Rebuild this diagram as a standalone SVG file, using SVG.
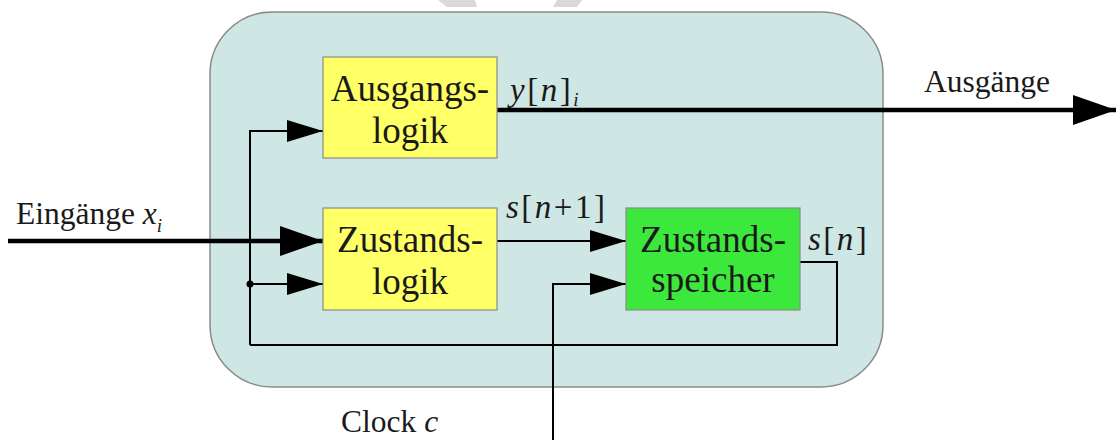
<svg xmlns="http://www.w3.org/2000/svg" width="1116" height="440" viewBox="0 0 1116 440">
<defs>
<style>
.box{stroke:#8a8a8a;stroke-width:1.2}
.yl{fill:#ffff66}
.gr{fill:#3de83d}
.lbl{font-family:"Liberation Serif",serif;font-size:37px;fill:#1a1a1a;text-anchor:middle}
.txt{font-family:"Liberation Serif",serif;font-size:31.5px;fill:#1a1a1a}
.math{font-family:"Liberation Serif",serif;font-size:33px;fill:#1a1a1a;letter-spacing:2.5px}
.it{font-style:italic}
.thin{fill:none;stroke:#000;stroke-width:2}
.thick{fill:none;stroke:#000;stroke-width:4.5}
</style>
<marker id="ah" viewBox="0 0 36 22" refX="36" refY="11" markerWidth="36" markerHeight="22" markerUnits="userSpaceOnUse" orient="auto"><path d="M0,0 L36,11 L0,22 Z" fill="#000"/></marker>
<marker id="ahb" viewBox="0 0 43 30" refX="43" refY="15" markerWidth="43" markerHeight="30" markerUnits="userSpaceOnUse" orient="auto"><path d="M0,0 L43,15 L0,30 Z" fill="#000"/></marker>
</defs>
<rect width="1116" height="440" fill="#fff"/>
<polygon points="438,0 475,0 477,7 447,7" fill="#d9d9d9"/>
<polygon points="557,0 582,0 577,7 553,7" fill="#d9d9d9"/>
<g id="system"><rect x="210" y="12" width="673" height="375" rx="62" ry="62" fill="#cfe7e4" stroke="#8a8a8a" stroke-width="1.5"/></g>
<g id="connectors">
<path class="thick" d="M497,110 H1116" marker-end="url(#ahb)"/>
<path class="thick" d="M8,241 H323" marker-end="url(#ahb)"/>
<path class="thin" d="M250,345 V131 H323" marker-end="url(#ah)"/>
<path class="thin" d="M250,284 H323" marker-end="url(#ah)"/>
<circle cx="250" cy="284" r="3.5" fill="#000"/>
<path class="thin" d="M800,262 H837 V345 H250"/>
<path class="thin" d="M497,241 H626" marker-end="url(#ah)"/>
<path class="thin" d="M553,440 V284 H626" marker-end="url(#ah)"/>
</g>
<g id="ausgangslogik">
<rect class="box yl" x="323" y="57" width="174" height="101"/>
<text class="lbl" x="410" y="101">Ausgangs-</text>
<text class="lbl" x="410" y="143">logik</text>
</g>
<g id="zustandslogik">
<rect class="box yl" x="323" y="208" width="174" height="102"/>
<text class="lbl" x="410" y="252">Zustands-</text>
<text class="lbl" x="410" y="294">logik</text>
</g>
<g id="zustandsspeicher">
<rect class="box gr" x="626" y="208" width="174" height="102"/>
<text class="lbl" x="713" y="252">Zustands-</text>
<text class="lbl" x="713" y="292">speicher</text>
</g>
<g id="labels">
<text class="math" x="510" y="101"><tspan class="it">y</tspan>[<tspan class="it">n</tspan>]<tspan class="it" font-size="19" dy="5">i</tspan></text>
<text class="math" x="506" y="218"><tspan class="it">s</tspan>[<tspan class="it">n</tspan>+1]</text>
<text class="math" x="808" y="250"><tspan class="it">s</tspan>[<tspan class="it">n</tspan>]</text>
<text class="txt" x="16" y="224">Eingänge <tspan class="it">x</tspan><tspan class="it" font-size="19" dy="8">i</tspan></text>
<text class="txt" x="924" y="92">Ausgänge</text>
<text class="txt" x="341" y="432">Clock <tspan class="it">c</tspan></text>
</g>
</svg>
